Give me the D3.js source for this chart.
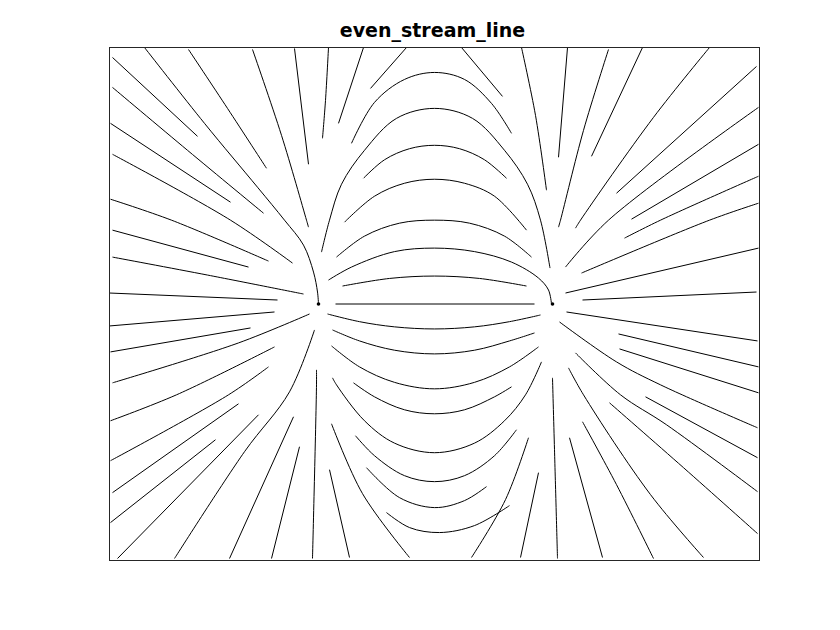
<!DOCTYPE html>
<html><head><meta charset="utf-8">
<script src="https://cdn.jsdelivr.net/npm/d3@7"></script>
<style>html,body{margin:0;padding:0;background:#fff}</style>
</head><body>
<svg id="chart" width="840" height="630"></svg>
<script>
const titleText = "even_stream_line";
const xDomain = [-3.25, 3.25];
const yDomain = [-2.57, 2.57];
// field sources (the two dots)
const sources = [[-1.16, 0], [1.18, 0]];

// streamlines on the left of the left source
const leftLines = [
  [[-3.22,2.47],[-2.37,1.68]],
  [[-3.22,2.17],[-2.47,1.54],[-1.71,0.91]],
  [[-2.90,2.57],[-2.30,1.81],[-1.77,1.17],[-1.50,0.84],[-1.31,0.59],[-1.21,0.32],[-1.17,0.12],[-1.16,0]],
  [[-2.46,2.55],[-2.07,1.96],[-1.68,1.36]],
  [[-1.82,2.55],[-1.53,1.69],[-1.28,0.84],[-1.26,0.77]],
  [[-1.40,2.56],[-1.26,1.40]],
  [[-1.06,2.57],[-1.09,2.04],[-1.12,1.66]],
  [[-3.24,1.81],[-2.04,1.02]],
  [[-3.22,1.50],[-2.04,0.84],[-1.42,0.41]],
  [[-3.24,1.05],[-2.63,0.84],[-1.66,0.43]],
  [[-3.22,0.74],[-1.86,0.37]],
  [[-3.22,0.47],[-2.27,0.29],[-1.31,0.10]],
  [[-3.25,0.11],[-1.57,0.04]],
  [[-3.25,-0.22],[-1.60,-0.08]],
  [[-3.24,-0.48],[-1.84,-0.24]],
  [[-3.22,-0.79],[-1.96,-0.39],[-1.25,-0.10]],
  [[-3.24,-1.17],[-2.58,-0.91],[-1.60,-0.43]],
  [[-3.24,-1.57],[-2.06,-0.91],[-1.66,-0.63]],
  [[-3.22,-1.89],[-1.96,-1.00]],
  [[-3.24,-2.19],[-2.19,-1.36]],
  [[-3.17,-2.55],[-1.76,-1.11]],
  [[-2.60,-2.55],[-1.90,-1.48],[-1.45,-0.88],[-1.20,-0.26]],
  [[-2.05,-2.55],[-1.41,-1.13]],
  [[-1.63,-2.55],[-1.35,-1.43]],
  [[-1.22,-2.55],[-1.18,-0.81],[-1.18,-0.66]]
];

// streamlines between the sources (arcs) and near the middle edges
const middleLines = [
  [[-0.71,2.57],[-0.96,1.81]],
  [[-0.28,2.57],[-0.64,2.16]],
  [[0.27,2.57],[0.68,2.08]],
  [[0.87,2.57],[1.01,1.89],[1.12,1.14]],
  [[-0.83,1.61],[-0.60,2.02],[-0.30,2.25],[0.00,2.32],[0.30,2.25],[0.57,2.01],[0.77,1.71]],
  [[-1.13,0.52],[-1.05,0.84],[-0.93,1.20],[-0.70,1.54],[-0.38,1.86],[0,1.96],[0.38,1.86],[0.70,1.54],[0.93,1.20],[1.06,0.84],[1.155,0.36]],
  [[-0.71,1.26],[-0.50,1.445],[-0.25,1.556],[0,1.59],[0.25,1.556],[0.50,1.445],[0.72,1.26]],
  [[-0.90,0.82],[-0.60,1.08],[-0.30,1.21],[0,1.25],[0.30,1.21],[0.60,1.08],[0.92,0.74]],
  [[-0.98,0.47],[-0.70,0.68],[-0.35,0.81],[0,0.84],[0.35,0.81],[0.70,0.68],[0.97,0.47]],
  [[-1.06,0.24],[-0.83,0.37],[-0.40,0.525],[0,0.56],[0.40,0.525],[0.77,0.42],[1.04,0.26],[1.14,0.14],[1.17,0]],
  [[-0.92,0.18],[-0.45,0.256],[0,0.28],[0.45,0.256],[0.92,0.18]],
  [[-0.99,0],[1.00,0]],
  [[-1.07,-0.10],[-0.75,-0.177],[-0.40,-0.229],[0,-0.25],[0.40,-0.229],[0.75,-0.177],[1.06,-0.11]],
  [[-1.02,-0.26],[-0.75,-0.37],[-0.40,-0.463],[0,-0.50],[0.40,-0.463],[0.75,-0.37],[1.00,-0.29]],
  [[-1.03,-0.42],[-0.75,-0.63],[-0.40,-0.785],[0,-0.85],[0.40,-0.785],[0.75,-0.63],[1.04,-0.43]],
  [[-0.81,-0.79],[-0.60,-0.93],[-0.30,-1.06],[0,-1.10],[0.30,-1.06],[0.60,-0.93],[0.77,-0.83]],
  [[-1.02,-0.74],[-0.98,-0.81],[-0.70,-1.17],[-0.40,-1.394],[0,-1.49],[0.40,-1.394],[0.70,-1.17],[0.91,-0.91],[1.07,-0.58]],
  [[-0.79,-1.32],[-0.60,-1.52],[-0.30,-1.72],[0,-1.78],[0.30,-1.72],[0.60,-1.52],[0.82,-1.26]],
  [[-0.68,-1.64],[-0.35,-1.94],[0,-2.04],[0.30,-1.97],[0.52,-1.83]],
  [[-0.48,-2.09],[-0.25,-2.24],[0.05,-2.29],[0.40,-2.22],[0.75,-2.02]],
  [[-1.03,-1.20],[-0.72,-1.90],[-0.25,-2.54]],
  [[-1.05,-1.66],[-0.85,-2.54]],
  [[1.04,-1.69],[0.86,-2.54]],
  [[0.94,-1.34],[0.71,-1.96],[0.37,-2.54]]
];

// streamlines on the right of the right source
const rightLines = [
  [[1.33,2.57],[1.24,1.47]],
  [[1.74,2.55],[1.49,1.74],[1.26,0.84],[1.24,0.77]],
  [[2.08,2.57],[1.57,1.48]],
  [[2.75,2.57],[2.19,1.87],[1.46,0.84],[1.41,0.76]],
  [[3.24,1.97],[1.74,0.84],[1.31,0.37]],
  [[3.22,2.38],[1.82,1.11]],
  [[3.24,1.60],[1.97,0.85]],
  [[3.24,1.28],[2.26,0.84],[1.90,0.66]],
  [[3.24,1.01],[2.75,0.84],[1.47,0.31]],
  [[3.24,0.56],[1.31,0.11]],
  [[3.22,0.12],[1.48,0.04]],
  [[3.23,-0.37],[1.32,-0.08]],
  [[3.24,-0.63],[1.84,-0.30]],
  [[3.24,-0.89],[1.85,-0.45]],
  [[1.25,-0.18],[1.82,-0.58],[2.26,-0.81],[3.23,-1.24]],
  [[1.41,-0.49],[1.86,-0.91],[2.32,-1.21],[3.23,-1.88]],
  [[1.75,-0.99],[2.49,-1.64],[3.23,-2.30]],
  [[2.11,-0.93],[3.23,-1.54]],
  [[1.34,-0.64],[1.49,-0.91],[2.16,-1.91],[2.69,-2.54]],
  [[1.48,-1.18],[1.82,-1.81],[2.19,-2.55]],
  [[1.35,-1.34],[1.68,-2.54]],
  [[1.18,-0.74],[1.20,-1.46],[1.23,-2.55]]
];

const svg = d3.select("#chart");
const x = d3.scaleLinear().domain(xDomain).range([109.5, 759.5]);
const y = d3.scaleLinear().domain(yDomain).range([560.5, 47.5]);

svg.append("defs").append("clipPath").attr("id", "clip")
  .append("rect")
  .attr("x", x(xDomain[0])).attr("y", y(yDomain[1]))
  .attr("width", x(xDomain[1]) - x(xDomain[0]))
  .attr("height", y(yDomain[0]) - y(yDomain[1]));

const line = d3.line().x(d => x(d[0])).y(d => y(d[1])).curve(d3.curveCatmullRom.alpha(0.5));

const g = svg.append("g").attr("clip-path", "url(#clip)");
g.selectAll("path.s")
  .data([...leftLines, ...middleLines, ...rightLines])
  .join("path")
  .attr("class", "s")
  .attr("d", line)
  .attr("fill", "none")
  .attr("stroke", "#000")
  .attr("stroke-width", 1);

g.selectAll("circle.src")
  .data(sources)
  .join("circle")
  .attr("class", "src")
  .attr("cx", d => x(d[0]))
  .attr("cy", d => y(d[1]))
  .attr("r", 1.8)
  .attr("fill", "#000");

svg.append("rect")
  .attr("x", x(xDomain[0])).attr("y", y(yDomain[1]))
  .attr("width", x(xDomain[1]) - x(xDomain[0]))
  .attr("height", y(yDomain[0]) - y(yDomain[1]))
  .attr("fill", "none").attr("stroke", "#262626").attr("stroke-width", 1);

svg.append("text")
  .attr("x", (x(xDomain[0]) + x(xDomain[1])) / 2 - 2)
  .attr("y", 37)
  .attr("text-anchor", "middle")
  .attr("font-family", "DejaVu Sans, sans-serif")
  .attr("font-weight", "bold")
  .attr("font-size", 19)
  .attr("fill", "#000")
  .text(titleText);
</script>
</body></html>
